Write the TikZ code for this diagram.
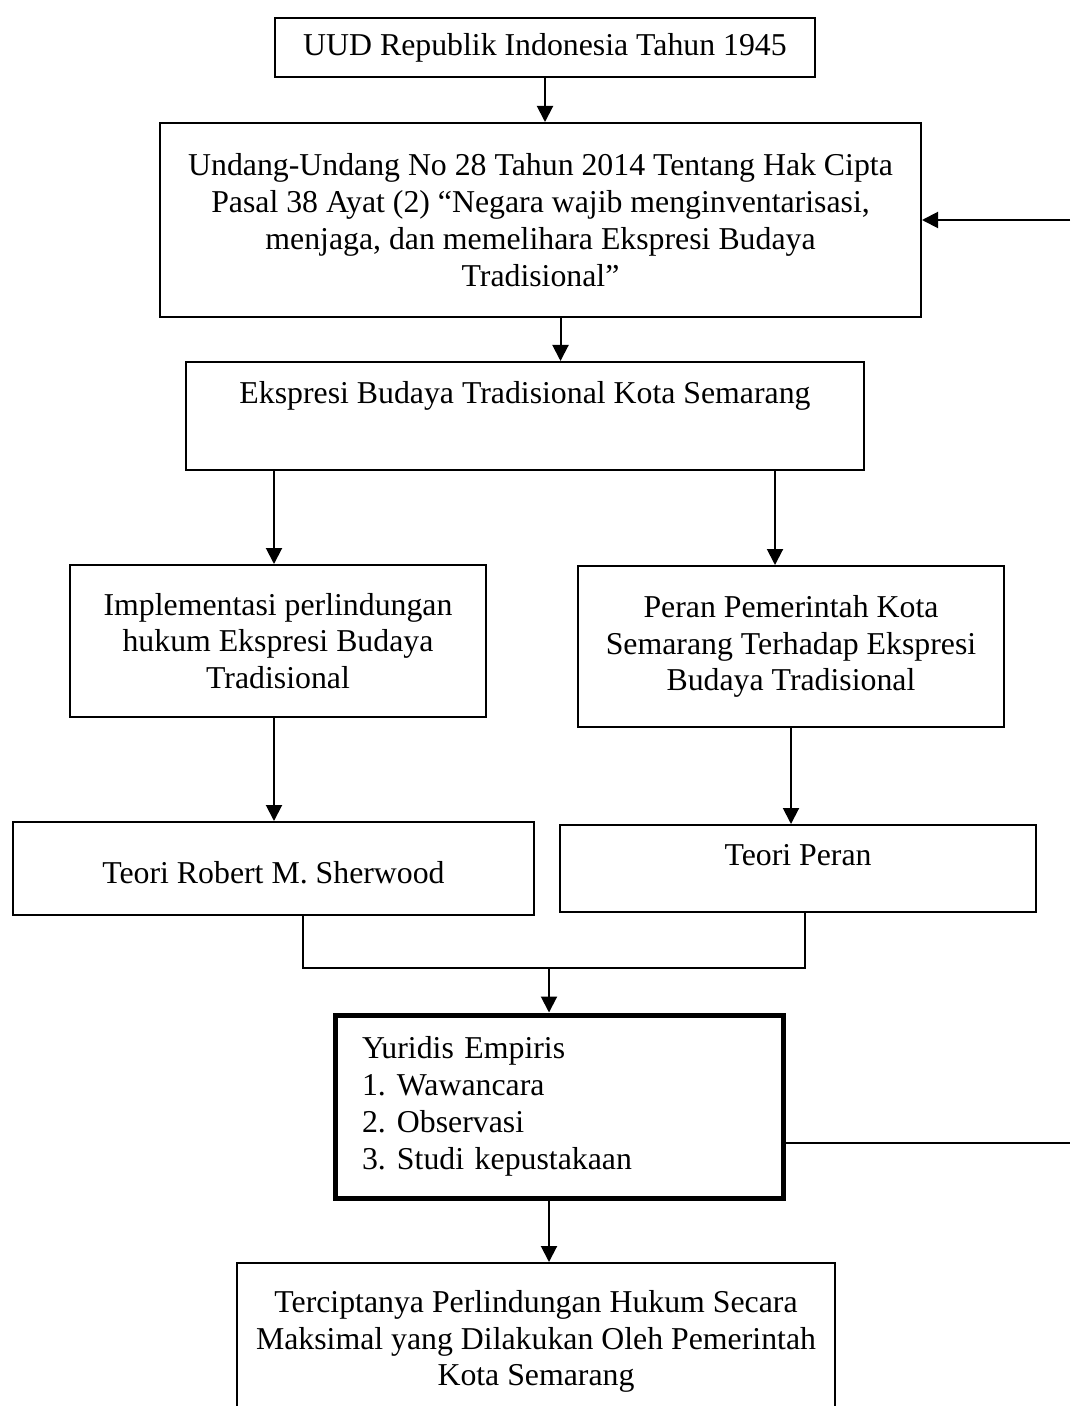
\documentclass[tikz,border=0pt]{standalone}
\usepackage{fontspec}
\setmainfont{Liberation Serif}
\usepackage{tikz}
\usetikzlibrary{arrows.meta}
\usetikzlibrary{positioning}

\begin{document}
\begin{tikzpicture}[>={Triangle[length=8pt,width=8pt]}, x=0.5pt, y=-0.5pt,
    font=\fontsize{15.9pt}{18.4pt}\selectfont,
    kotak/.style={draw, line width=1pt, align=center, inner sep=0pt},
    panah/.style={->, line width=1pt}]
    \useasboundingbox (0,0) rectangle (1070,1406);
    \node[kotak, minimum width=270pt, minimum height=29.5pt] (Uud) at (545,47.5) {UUD Republik Indonesia Tahun 1945};
    \node[kotak, minimum width=380.5pt, minimum height=97pt] (Uu) at (540.5,220) {Undang-Undang No 28 Tahun 2014 Tentang Hak Cipta\\ Pasal 38 Ayat (2) “Negara wajib menginventarisasi,\\ menjaga, dan memelihara Ekspresi Budaya\\ Tradisional”};
    \node[kotak, minimum width=339pt, text height=20.75pt, text depth=33.25pt] (Ebt) at (525,416) {Ekspresi Budaya Tradisional Kota Semarang};
    \node[kotak, minimum width=208pt, minimum height=76pt] (Impl) at (278,641) {Implementasi perlindungan\\ hukum Ekspresi Budaya\\ Tradisional};
    \node[kotak, minimum width=213pt, minimum height=80.5pt] (Peran) at (791,646.5) {Peran Pemerintah Kota\\ Semarang Terhadap Ekspresi\\ Budaya Tradisional};
    \node[kotak, minimum width=260.5pt, text height=30.75pt, text depth=15.75pt] (Sherwood) at (273.5,868.5) {Teori Robert M. Sherwood};
    \node[kotak, minimum width=238pt, text height=20.25pt, text depth=23.25pt] (TPeran) at (798,868.5) {Teori Peran};
    \node[kotak, line width=2.5pt, align=left, minimum width=224pt, minimum height=91.5pt, inner xsep=13.5pt, text width=197pt] (Yuridis) at (559,1106.5) {Yuridis Empiris\\ \makebox[17.5pt][l]{1.}Wawancara\\ \makebox[17.5pt][l]{2.}Observasi\\ \makebox[17.5pt][l]{3.}Studi kepustakaan};
    \node[kotak, minimum width=299pt, minimum height=78.5pt] (Hasil) at (536,1341.5) {Terciptanya Perlindungan Hukum Secara\\ Maksimal yang Dilakukan Oleh Pemerintah\\ Kota Semarang};
    \coordinate (Gabung) at (549,968);
    \coordinate (BalikA) at (1070,1143);
    \coordinate (BalikB) at (1070,220);
    \draw[panah] (Uud.south) -- (Uud.south |- Uu.north);
    \draw[panah] ([xshift=10pt]Uu.south) -- ([xshift=10pt]Uu.south |- Ebt.north);
    \draw[panah] (Ebt.south -| Impl.north) ++(-2pt,0) -- ([xshift=-2pt]Impl.north);
    \draw[panah] ([xshift=-8pt]Ebt.south -| Peran.north) -- ([xshift=-8pt]Peran.north);
    \draw[panah] ([xshift=-2pt]Impl.south) -- ([xshift=-2pt]Impl.south |- Sherwood.north);
    \draw[panah] (Peran.south) -- (Peran.south |- TPeran.north);
    \draw[line width=0.75pt] ([xshift=14.75pt]Sherwood.south) |- (Gabung) -| ([xshift=3.5pt]TPeran.south);
    \draw[panah] (Gabung) -- (Gabung |- Yuridis.north);
    \draw[panah] ([xshift=-5pt]Yuridis.south) -- ([xshift=-5pt]Yuridis.south |- Hasil.north);
    \draw[line width=1pt] ([yshift=-18.25pt]Yuridis.east) -- (BalikA);
    \draw[panah] (BalikB) -- (Uu.east);
\end{tikzpicture}
\end{document}
